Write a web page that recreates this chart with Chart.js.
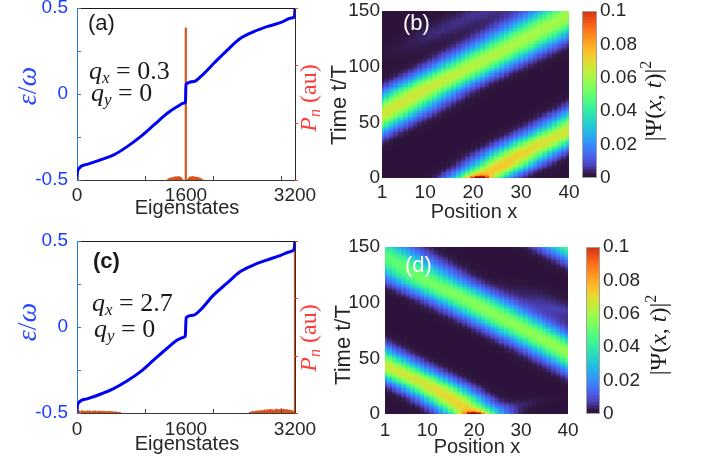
<!DOCTYPE html>
<html>
<head>
<meta charset="utf-8">
<title>Quasienergy spectra and wave packet dynamics</title>
<script src="https://cdn.jsdelivr.net/npm/chart.js@4.4.1/dist/chart.umd.min.js"></script>
<style>
  html, body { margin: 0; padding: 0; background: #fff; }
  #fig { position: relative; width: 702px; height: 466px; overflow: hidden; }
  #fig canvas { position: absolute; }
</style>
</head>
<body>
<div id="fig">
  <canvas id="chartA" width="330" height="230" style="left:0;top:0"></canvas>
  <canvas id="chartC" width="330" height="236" style="left:0;top:230px"></canvas>
  <canvas id="chartB" width="382" height="230" style="left:320px;top:0"></canvas>
  <canvas id="chartD" width="382" height="236" style="left:320px;top:230px"></canvas>
</div>
<script>
// ---------- data ----------
// (a) qx = 0.3 : quasienergy vs eigenstate index (samples along the curve)
const eigStatesA = [0, 3, 20, 147, 344, 540, 736, 933, 1129, 1326, 1473, 1571, 1592, 1600, 1719, 1817, 2013, 2210, 2406, 2603, 2800, 2996, 3143, 3192, 3200];
const quasiEnergyA = [-0.5, -0.47, -0.438, -0.409, -0.383, -0.354, -0.306, -0.248, -0.18, -0.112, -0.073, -0.053, -0.048, 0.057, 0.073, 0.102, 0.18, 0.257, 0.325, 0.364, 0.393, 0.416, 0.442, 0.45, 0.5];
// overlap P_n of the initial state with each eigenstate
const pnStatesA = [1340, 1352, 1364, 1376, 1388, 1400, 1412, 1424, 1436, 1448, 1460, 1472, 1484, 1496, 1508, 1520, 1532, 1544,
  1597,
  1632, 1644, 1656, 1668, 1680, 1692, 1704, 1716, 1728, 1740, 1752, 1764, 1776, 1788, 1800, 1812, 1824, 1836];
const pnValuesA = [0.005, 0.008, 0.006, 0.012, 0.009, 0.014, 0.011, 0.017, 0.013, 0.019, 0.015, 0.018, 0.014, 0.02, 0.013, 0.016, 0.009, 0.005,
  0.884,
  0.005, 0.011, 0.015, 0.019, 0.013, 0.018, 0.02, 0.015, 0.018, 0.013, 0.016, 0.011, 0.014, 0.009, 0.012, 0.007, 0.005, 0.004];

// (c) qx = 2.7
const eigStatesC = [0, 3, 20, 147, 342, 537, 733, 928, 1124, 1319, 1466, 1578, 1590, 1602, 1710, 1808, 2003, 2198, 2393, 2589, 2784, 2980, 3126, 3185, 3200];
const quasiEnergyC = [-0.5, -0.47, -0.442, -0.418, -0.391, -0.358, -0.314, -0.261, -0.193, -0.125, -0.077, -0.057, -0.05, 0.055, 0.069, 0.098, 0.185, 0.253, 0.321, 0.36, 0.389, 0.415, 0.438, 0.451, 0.5];
const pnStatesC = [10, 30, 50, 70, 90, 110, 130, 150, 170, 190, 210, 230, 250, 270, 290, 310, 330, 350, 370, 390, 410, 430, 450, 470, 490, 510, 530, 550, 570, 590, 610, 630,
  2540, 2560, 2580, 2600, 2620, 2640, 2660, 2680, 2700, 2720, 2740, 2760, 2780, 2800, 2820, 2840, 2860, 2880, 2900, 2920, 2940, 2960, 2980, 3000, 3020, 3040, 3060, 3080, 3100, 3120, 3140, 3160, 3180,
  3199];
const pnValuesC = [0.008, 0.012, 0.006, 0.014, 0.009, 0.011, 0.007, 0.013, 0.01, 0.012, 0.006, 0.011, 0.009, 0.013, 0.008, 0.01, 0.012, 0.007, 0.011, 0.009, 0.01, 0.006, 0.009, 0.008, 0.007, 0.009, 0.005, 0.007, 0.006, 0.005, 0.004, 0.003,
  0.004, 0.006, 0.008, 0.007, 0.01, 0.012, 0.009, 0.014, 0.011, 0.016, 0.013, 0.018, 0.012, 0.02, 0.015, 0.022, 0.017, 0.019, 0.014, 0.023, 0.018, 0.021, 0.016, 0.025, 0.019, 0.022, 0.017, 0.02, 0.015, 0.018, 0.012, 0.015, 0.01,
  1.0];

const stateTicks = [0, 1600, 3200];
const stateTickMarks = [0, 1000, 2000, 3000];
const energyTicks = [-0.5, 0, 0.5];
const energyTickMarks = [-0.5, -0.25, 0, 0.25, 0.5];
const pnTickMarks = [0, 1 / 3, 2 / 3, 1];

// heat maps |psi(x,t)|^2
const positions = [1, 2, 3, 4, 5, 6, 7, 8, 9, 10, 11, 12, 13, 14, 15, 16, 17, 18, 19, 20,
  21, 22, 23, 24, 25, 26, 27, 28, 29, 30, 31, 32, 33, 34, 35, 36, 37, 38, 39, 40];
const positionTicks = [1, 10, 20, 30, 40];
const timeTicks = [0, 50, 100, 150];
const densityTicks = [0, 0.02, 0.04, 0.06, 0.08, 0.1];
const timeMax = 150;

// wave packet ridges read from the maps: time, centre position, peak density, width (sites)
// (track ends lie outside the plotted window)
// (b)
const ridgeB1Time = [0, 10, 22, 33, 43, 56, 90];
const ridgeB1Pos = [21, 25.5, 30, 35, 40, 45.5, 60];
const ridgeB1Peak = [0.074, 0.075, 0.072, 0.069, 0.067, 0.066, 0.066];
const ridgeB1Width = [4, 4.3, 4.6, 4.8, 5, 5, 5];
const ridgeB2Time = [20, 57, 80, 100, 121, 142, 150];
const ridgeB2Pos = [-15.5, 1, 10, 19.5, 29, 38, 41.5];
const ridgeB2Peak = [0.066, 0.067, 0.067, 0.063, 0.061, 0.06, 0.06];
const ridgeB2Width = [5, 5, 5, 5.2, 5.5, 5.8, 6];
const ridgeB3Time = [100, 130, 150];
const ridgeB3Pos = [0, 12, 22];
const ridgeB3Peak = [0, 0.005, 0.006];
const ridgeB3Width = [4, 4, 4];
// (d)
const ridgeD1Time = [0, 15, 27, 44, 56, 90];
const ridgeD1Pos = [20, 15, 10, 1, -4.5, -20];
const ridgeD1Peak = [0.072, 0.072, 0.068, 0.066, 0.065, 0.065];
const ridgeD1Width = [4, 4.3, 4.6, 5, 5, 5];
const ridgeD2Time = [10, 56, 78, 100, 120, 143, 156];
const ridgeD2Pos = [60, 40, 30, 20, 10, 1, -4.5];
const ridgeD2Peak = [0.058, 0.058, 0.057, 0.056, 0.053, 0.048, 0.046];
const ridgeD2Width = [5, 5, 5, 5.2, 5.4, 5.6, 5.8];
const ridgeD3Time = [110, 150];
const ridgeD3Pos = [60, 42];
const ridgeD3Peak = [0.05, 0.05];
const ridgeD3Width = [5, 5];
const ridgeD4Time = [0, 10, 20];
const ridgeD4Pos = [24, 30, 36];
const ridgeD4Peak = [0.006, 0.004, 0];
const ridgeD4Width = [3.5, 3.5, 3.5];
const ridgeD5Time = [70, 95, 125];
const ridgeD5Pos = [48, 38, 26];
const ridgeD5Peak = [0, 0.007, 0];
const ridgeD5Width = [4, 4, 4];
// initial localized packet (time, position, extra peak)
const startB = [0.5, 21.5, 0.045];
const startD = [0.5, 20, 0.045];

// ---------- helpers ----------
const SANS = '"Liberation Sans", Arial, sans-serif';
const SERIF = '"Liberation Serif", "Times New Roman", serif';
const TXT = '#262626';

function turbo(t) {
  t = Math.max(0, Math.min(1, t));
  let r = 0.13572138 + t * (4.6153926 + t * (-42.66032258 + t * (132.13108234 + t * (-152.94239396 + t * 59.28637943))));
  let g = 0.09140261 + t * (2.19418839 + t * (4.84296658 + t * (-14.18503333 + t * (4.27729857 + t * 2.82956604))));
  let b = 0.1066733 + t * (12.64194608 + t * (-60.58204836 + t * (110.36276771 + t * (-89.90310912 + t * 27.34824973))));
  if (t < 0.06) { // pull the low end towards the dark navy of the map
    const w = 1 - t / 0.06;
    r = r * (1 - w) + 0.176 * w; g = g * (1 - w) + 0.075 * w; b = b * (1 - w) + 0.235 * w;
  }
  const c = v => Math.round(Math.max(0, Math.min(1, v)) * 255);
  return 'rgb(' + c(r) + ',' + c(g) + ',' + c(b) + ')';
}
function densityColor(v) { return turbo(v / 0.1 * 0.86); }

function ridge(time, pos, peak, width) { return { time, pos, peak, width }; }

function ridgeAt(r, t, x) {
  const T = r.time;
  if (t < T[0] || t > T[T.length - 1]) return 0;
  let i = 0;
  while (i < T.length - 2 && t > T[i + 1]) i++;
  const f = (t - T[i]) / (T[i + 1] - T[i]);
  const c = r.pos[i] + f * (r.pos[i + 1] - r.pos[i]);
  const p = r.peak[i] + f * (r.peak[i + 1] - r.peak[i]);
  const s = r.width[i] + f * (r.width[i + 1] - r.width[i]);
  const d = x - c;
  return p * Math.exp(-d * d / (2 * s * s));
}

function buildCells(ridges, start) {
  const rows = [];
  for (let t = 0; t <= timeMax; t++) {
    const v = positions.map(x => {
      let s = 0;
      ridges.forEach(r => { s += ridgeAt(r, t, x); });
      const dt = t - start[0], dx = x - start[1];
      s += start[2] * Math.exp(-dt * dt / (2 * 1.8 * 1.8) - dx * dx / (2 * 1.6 * 1.6));
      return s;
    });
    rows.push({ t, v });
  }
  return rows;
}

// text drawn on the canvas (supports sub/superscripts and rotation)
const textPlugin = {
  id: 'texts',
  afterDraw(chart, args, opts) {
    const ctx = chart.ctx;
    (opts.items || []).forEach(it => {
      ctx.save();
      ctx.translate(it.x, it.y);
      if (it.rot) ctx.rotate(it.rot * Math.PI / 180);
      ctx.fillStyle = it.color || TXT;
      ctx.textBaseline = 'alphabetic';
      ctx.textAlign = 'left';
      let w = 0;
      it.segs.forEach(s => { ctx.font = s[1]; w += ctx.measureText(s[0]).width; });
      let x = it.align === 'center' ? -w / 2 : 0;
      it.segs.forEach(s => {
        ctx.font = s[1];
        ctx.fillText(s[0], x, s[2] || 0);
        x += ctx.measureText(s[0]).width;
      });
      ctx.restore();
    });
  }
};

const axisMarks = {
  id: 'axisMarks',
  afterDatasetsDraw(chart) {
    const { ctx, chartArea: a, scales } = chart;
    ctx.save();
    ctx.lineWidth = 1;
    ctx.strokeStyle = '#1a1a1a';
    ctx.beginPath(); ctx.moveTo(a.left, a.top + 0.5); ctx.lineTo(a.right, a.top + 0.5); ctx.stroke();
    ctx.strokeStyle = '#2b7bd6';
    energyTickMarks.forEach(v => {
      const p = Math.round(scales.y.getPixelForValue(v)) + 0.5;
      ctx.beginPath(); ctx.moveTo(a.left, p); ctx.lineTo(a.left + 4, p); ctx.stroke();
    });
    ctx.strokeStyle = '#404040';
    stateTickMarks.forEach(v => {
      const p = Math.round(scales.x.getPixelForValue(v)) + 0.5;
      ctx.beginPath(); ctx.moveTo(p, a.bottom); ctx.lineTo(p, a.bottom - 4); ctx.stroke();
    });
    ctx.strokeStyle = '#d95319';
    pnTickMarks.forEach(v => {
      const p = Math.round(scales.y2.getPixelForValue(v)) + 0.5;
      ctx.beginPath(); ctx.moveTo(a.right, p); ctx.lineTo(a.right + 3, p); ctx.stroke();
    });
    ctx.restore();
  }
};

function heatPlugin(cells, bar) {
  return {
    id: 'heat',
    beforeDatasetsDraw(chart) {
      const { ctx, chartArea: a, scales: { x, y, cb } } = chart;
      ctx.save();
      ctx.beginPath(); ctx.rect(a.left, a.top, a.right - a.left, a.bottom - a.top); ctx.clip();
      cells.forEach(row => {
        const y0 = Math.floor(y.getPixelForValue(row.t + 0.5));
        const y1 = Math.ceil(y.getPixelForValue(row.t - 0.5));
        row.v.forEach((v, j) => {
          const x0 = Math.floor(x.getPixelForValue(positions[j] - 0.5));
          const x1 = Math.ceil(x.getPixelForValue(positions[j] + 0.5));
          ctx.fillStyle = densityColor(v);
          ctx.fillRect(x0, y0, x1 - x0, y1 - y0);
        });
      });
      ctx.restore();
      // colour bar
      const bx = a.right + bar.gap;
      const n = 120;
      for (let k = 0; k < n; k++) {
        const v0 = 0.1 * k / n, v1 = 0.1 * (k + 1) / n;
        const p0 = cb.getPixelForValue(v0), p1 = cb.getPixelForValue(v1);
        ctx.fillStyle = densityColor((v0 + v1) / 2);
        ctx.fillRect(bx, Math.floor(p1), bar.width, Math.ceil(p0) - Math.floor(p1));
      }
      const top = cb.getPixelForValue(0.1), bot = cb.getPixelForValue(0);
      ctx.strokeStyle = '#a0a0a0';
      ctx.lineWidth = 1;
      ctx.strokeRect(bx + 0.5, top + 0.5, bar.width - 1, bot - top - 1);
    }
  };
}

function noPad(s) { s.paddingTop = 0; s.paddingBottom = 0; s.paddingLeft = 0; s.paddingRight = 0; }

function spectrumChart(id, states, energy, pnStates, pnValues, lay, items) {
  const ctx = document.getElementById(id).getContext('2d');
  return new Chart(ctx, {
    type: 'line',
    data: {
      datasets: [
        {
          type: 'line',
          data: states.map((x, i) => ({ x: x, y: energy[i] })),
          borderColor: '#0000f0',
          borderWidth: 3,
          pointRadius: 0,
          cubicInterpolationMode: 'monotone',
          yAxisID: 'y',
          order: 0
        },
        {
          type: 'bar',
          data: pnStates.map((x, i) => ({ x: x, y: pnValues[i] })),
          backgroundColor: '#d95319',
          barThickness: 1.5,
          yAxisID: 'y2',
          order: 1
        }
      ]
    },
    options: {
      responsive: false,
      animation: false,
      layout: { padding: { top: lay.top, left: 0, right: 0, bottom: 0 } },
      plugins: { legend: { display: false }, tooltip: { enabled: false }, texts: { items: items } },
      scales: {
        x: {
          type: 'linear', min: 0, max: 3200, offset: false,
          grid: { display: false, drawTicks: false, offset: false },
          border: { color: '#3a3a3a' },
          ticks: { color: TXT, font: { family: SANS, size: 19 }, padding: lay.xPad, maxRotation: 0, autoSkip: false, callback: v => String(v) },
          afterBuildTicks: s => { s.ticks = stateTicks.map(v => ({ value: v })); },
          afterFit: s => { s.height = lay.xh; noPad(s); }
        },
        y: {
          type: 'linear', position: 'left', min: -0.5, max: 0.5,
          grid: { display: false, drawTicks: false },
          border: { color: '#2b7bd6' },
          ticks: { color: '#1a3cff', font: { family: SANS, size: 19 }, padding: 9, callback: v => String(v) },
          afterBuildTicks: s => { s.ticks = energyTicks.map(v => ({ value: v })); },
          afterFit: s => { s.width = 77; noPad(s); }
        },
        y2: {
          type: 'linear', position: 'right', min: 0, max: 1,
          grid: { display: false, drawTicks: false },
          border: { color: '#2b2b2b' },
          ticks: { display: false },
          afterFit: s => { s.width = 35; noPad(s); }
        }
      }
    },
    plugins: [axisMarks, textPlugin]
  });
}

function heatChart(id, cells, lay, items) {
  const ctx = document.getElementById(id).getContext('2d');
  const tickFont = { family: SANS, size: 19 };
  return new Chart(ctx, {
    type: 'scatter',
    data: { datasets: [] },
    options: {
      responsive: false,
      animation: false,
      layout: { padding: { top: lay.top, left: 0, right: 0, bottom: 0 } },
      plugins: { legend: { display: false }, tooltip: { enabled: false }, texts: { items: items } },
      scales: {
        x: {
          type: 'linear', min: 1, max: 40,
          grid: { display: false, drawTicks: false }, border: { display: false },
          ticks: { color: TXT, font: tickFont, padding: lay.xPad, maxRotation: 0, autoSkip: false },
          afterBuildTicks: s => { s.ticks = positionTicks.map(v => ({ value: v })); },
          afterFit: s => { s.height = lay.xh; noPad(s); }
        },
        y: {
          type: 'linear', position: 'left', min: 0, max: timeMax,
          grid: { display: false, drawTicks: false }, border: { display: false },
          ticks: { color: TXT, font: tickFont, padding: lay.yPad },
          afterBuildTicks: s => { s.ticks = timeTicks.map(v => ({ value: v })); },
          afterFit: s => { s.width = lay.yw; noPad(s); }
        },
        cb: {
          type: 'linear', position: 'right', min: 0, max: 0.1,
          grid: { display: false, drawTicks: false }, border: { display: false },
          ticks: { color: TXT, font: tickFont, padding: lay.cbPad, callback: v => String(v) },
          afterBuildTicks: s => { s.ticks = densityTicks.map(v => ({ value: v })); },
          afterFit: s => { s.width = lay.cbw; noPad(s); }
        }
      }
    },
    plugins: [heatPlugin(cells, lay.bar), textPlugin]
  });
}

// ---------- text styles ----------
const IT26 = 'italic 26px ' + SERIF, IT17 = 'italic 17px ' + SERIF, RM26 = '26px ' + SERIF;
const IT24 = 'italic 24px ' + SERIF, IT16 = 'italic 16px ' + SERIF, RM24 = '24px ' + SERIF;
const IT28 = 'italic 28px ' + SERIF, RM28 = '28px ' + SERIF, RM16 = '16px ' + SERIF;
const LAB = '20px ' + SANS, PANEL = '22px ' + SANS;

function spectrumTexts(tag, tagFont, qx, p, labelY) {
  return [
    { x: p.tagX, y: p.tagY, color: '#1a1a1a', segs: [[tag, tagFont]] },
    { x: p.qx, y: p.q1, color: '#1a1a1a', segs: [['q', IT26], ['x', IT17, 4], [' = ' + qx, RM26]] },
    { x: p.qx + 2, y: p.q2, color: '#1a1a1a', segs: [['q', IT26], ['y', IT17, 4], [' = 0', RM26]] },
    { x: 36, y: p.eps, rot: -90, align: 'center', color: '#2848ff', segs: [['ε', IT28], ['/', RM28], ['ω', IT28]] },
    { x: 316, y: p.pn, rot: -90, align: 'center', color: '#ff3c3c', segs: [['P', IT24], ['n', IT16, 4], [' (au)', RM24]] },
    { x: 187, y: labelY, align: 'center', segs: [['Eigenstates', LAB]] }
  ];
}

function heatTexts(tag, t) {
  return [
    { x: t.tagX, y: t.tagY, color: '#ffffff', segs: [[tag, PANEL]] },
    { x: t.timeX, y: t.timeY, rot: -90, align: 'center', segs: [['Time t/T', '22px ' + SANS]] },
    { x: t.posX, y: t.posY, align: 'center', segs: [['Position x', LAB]] },
    { x: t.cbX, y: t.cbY, rot: -90, align: 'center', color: '#1a1a1a',
      segs: [['|Ψ(', RM24], ['x', IT24], [', ', RM24], ['t', IT24], [')|', RM24], ['2', RM16, -10]] }
  ];
}

// ---------- build ----------
spectrumChart('chartA', eigStatesA, quasiEnergyA, pnStatesA, pnValuesA,
  { top: 8, xh: 50, xPad: 4 },
  spectrumTexts('(a)', PANEL, '0.3', { tagX: 88, tagY: 30, qx: 89, q1: 79, q2: 101, eps: 86, pn: 98 }, 214));

spectrumChart('chartC', eigStatesC, quasiEnergyC, pnStatesC, pnValuesC,
  { top: 11, xh: 53, xPad: 5 },
  spectrumTexts('(c)', 'bold 22px ' + SANS, '2.7', { tagX: 93, tagY: 38, qx: 92, q1: 81, q2: 107, eps: 92, pn: 108 }, 220));

const cellsB = buildCells([
  ridge(ridgeB1Time, ridgeB1Pos, ridgeB1Peak, ridgeB1Width),
  ridge(ridgeB2Time, ridgeB2Pos, ridgeB2Peak, ridgeB2Width),
  ridge(ridgeB3Time, ridgeB3Pos, ridgeB3Peak, ridgeB3Width)
], startB);
const cellsD = buildCells([
  ridge(ridgeD1Time, ridgeD1Pos, ridgeD1Peak, ridgeD1Width),
  ridge(ridgeD2Time, ridgeD2Pos, ridgeD2Peak, ridgeD2Width),
  ridge(ridgeD3Time, ridgeD3Pos, ridgeD3Peak, ridgeD3Width),
  ridge(ridgeD4Time, ridgeD4Pos, ridgeD4Peak, ridgeD4Width),
  ridge(ridgeD5Time, ridgeD5Pos, ridgeD5Peak, ridgeD5Width)
], startD);

heatChart('chartB', cellsB,
  { top: 11, xh: 52, xPad: 3, yw: 62, yPad: 2, cbw: 133, cbPad: 31, bar: { gap: 13, width: 15 } },
  heatTexts('(b)', { tagX: 83, tagY: 30, timeX: 26, timeY: 105, posX: 154, posY: 218, cbX: 341, cbY: 101 }));

heatChart('chartD', cellsD,
  { top: 17, xh: 52, xPad: 5, yw: 65, yPad: 5, cbw: 134, cbPad: 35, bar: { gap: 18, width: 14 } },
  heatTexts('(d)', { tagX: 85, tagY: 42, timeX: 30, timeY: 115, posX: 157, posY: 223, cbX: 346, cbY: 105 }));
</script>
</body>
</html>
